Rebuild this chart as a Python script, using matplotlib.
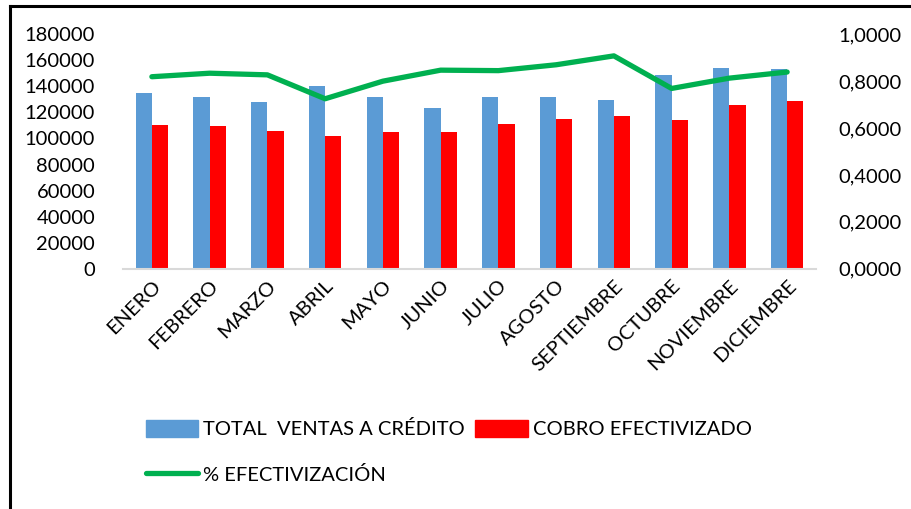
import numpy as np
import matplotlib
matplotlib.use("Agg")
import matplotlib.pyplot as plt
from matplotlib.lines import Line2D
from matplotlib.patches import Patch
from matplotlib.ticker import FuncFormatter

plt.rcParams['font.family'] = ['Lato', 'DejaVu Sans']

meses = ["ENERO", "FEBRERO", "MARZO", "ABRIL", "MAYO", "JUNIO", "JULIO",
         "AGOSTO", "SEPTIEMBRE", "OCTUBRE", "NOVIEMBRE", "DICIEMBRE"]
ventas_credito = [134600, 131600, 127800, 140300, 131600, 123400,
                  131900, 131900, 129500, 148500, 154400, 153400]
cobro_efectivizado = [110300, 109600, 105700, 101900, 105200, 104700,
                      111300, 114700, 117500, 114200, 125500, 128800]
pct_efectivizacion = [0.819, 0.834, 0.827, 0.725, 0.800, 0.847,
                      0.845, 0.870, 0.908, 0.769, 0.813, 0.839]

azul = "#5b9bd5"
rojo = "#ff0000"
verde = "#00b050"

fig = plt.figure(figsize=(9.12, 5.09), dpi=100)
ax = fig.add_axes([123 / 912, 1 - 268.7 / 509, (816 - 123) / 912, 234.4 / 509])

x = np.arange(len(meses))
w = 0.283
ax.bar(x - w / 2, ventas_credito, w, color=azul, zorder=2)
ax.bar(x + w / 2, cobro_efectivizado, w, color=rojo, zorder=2)
ax.set_xlim(-0.5, len(meses) - 0.5)
ax.set_ylim(0, 180000)
ax.set_yticks(np.arange(0, 180001, 20000))
ax.set_xticks(x)
ax.set_xticklabels(meses, rotation=45, ha="right", rotation_mode="anchor", fontsize=14.5)
ax.tick_params(axis="both", length=0, labelsize=14.5)
ax.tick_params(axis="y", pad=20)
ax.tick_params(axis="x", pad=6)
for s in ["top", "left", "right"]:
    ax.spines[s].set_visible(False)
ax.spines["bottom"].set_color("#d9d9d9")
ax.spines["bottom"].set_linewidth(1.5)

ax2 = ax.twinx()
ax2.plot(x, pct_efectivizacion, color=verde, linewidth=3.8, solid_capstyle="round", zorder=3)
ax2.set_ylim(0, 1.0)
ax2.set_yticks(np.arange(0, 1.01, 0.2))
ax2.yaxis.set_major_formatter(FuncFormatter(lambda v, p: f"{v:.4f}".replace(".", ",")))
ax2.tick_params(axis="y", length=0, labelsize=14.5, pad=16)
for s in ["top", "left", "right", "bottom"]:
    ax2.spines[s].set_visible(False)

handles = [Patch(color=azul), Line2D([], [], color=verde, linewidth=3.8, solid_capstyle="round"),
           Patch(color=rojo)]
labels = ["TOTAL  VENTAS A CRÉDITO", "% EFECTIVIZACIÓN", "COBRO EFECTIVIZADO"]
fig.legend(handles, labels, ncol=2, loc="upper left", bbox_to_anchor=(146 / 912, 1 - 420 / 509),
           frameon=False, fontsize=14.5, handlelength=2.6, handleheight=0.9,
           handletextpad=0.25, columnspacing=0.5, labelspacing=1.35, borderaxespad=0,
           borderpad=0)

# marco recortado (solo arriba e izquierda)
fig.add_artist(Line2D([10 / 912, 10 / 912], [0, 1 - 6 / 509], color="black", linewidth=2.2,
                      transform=fig.transFigure))
fig.add_artist(Line2D([10 / 912, 1], [1 - 6 / 509, 1 - 6 / 509], color="black", linewidth=2.2,
                      transform=fig.transFigure))

fig.savefig("out.png", dpi=100)
